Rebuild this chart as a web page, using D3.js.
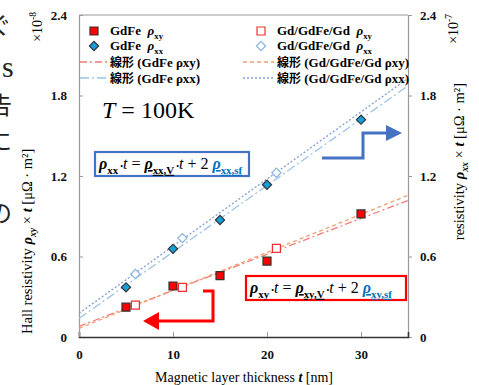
<!DOCTYPE html>
<html lang="ja">
<head>
<meta charset="UTF-8">
<script src="https://d3js.org/d3.v7.min.js"></script>
<style>
  body { margin: 0; background: #fff; }
  svg { display: block; font-family: "Liberation Serif", "Times New Roman", serif; }
</style>
</head>
<body>
<svg id="chart" width="479" height="385"></svg>
<script>
// values
var thickGdFe = [5, 10, 15, 20, 30];
var rhoXyGdFe = [0.222, 0.38, 0.457, 0.566, 0.917];
var rhoXxGdFe = [0.37, 0.657, 0.872, 1.135, 1.62];
var thickTri = [6, 11, 21];
var rhoXyTri = [0.238, 0.37, 0.661];
var rhoXxTri = [0.47, 0.737, 1.224];
var xTicks = [0, 10, 20, 30];
var yTicks = [0, 0.6, 1.2, 1.8, 2.4];

var svg = d3.select("#chart");
var x = d3.scaleLinear().domain([0, 35]).range([79, 408]);
var y = d3.scaleLinear().domain([0, 2.4]).range([337, 15]);

// rich text helper: parts with italic / sub / sup / colour / underline
function rich(g, px, py, parts, opts) {
  opts = opts || {};
  var size = opts.size || 13;
  var t = g.append("text").attr("x", px).attr("y", py)
    .attr("font-size", size)
    .attr("font-weight", opts.weight || "normal")
    .attr("text-anchor", opts.anchor || "start")
    .attr("fill", "#000");
  var shift = 0;
  parts.forEach(function(p) {
    var want = p.sub ? size * 0.3 : (p.sup ? -size * 0.4 : 0);
    var ts = t.append("tspan").text(p.t).attr("dy", want - shift);
    shift = want;
    if (p.sub || p.sup) ts.attr("font-size", size * 0.68);
    if (p.size) ts.attr("font-size", p.size);
    if (p.i) ts.attr("font-style", "italic");
    if (p.b) ts.attr("font-weight", "bold");
    if (p.fill) ts.attr("fill", p.fill);
    if (p.u) ts.attr("text-decoration", "underline");
    if (p.font) ts.attr("font-family", p.font);
  });
  return t;
}

// clipped slide text at the far left
var side = [["ぐ", -12, 34, 1, 24], ["s", 2, 77, 0, 30], ["告", -12, 114, 1, 24], ["に", -12, 150, 1, 24], ["、", -10, 186, 1, 24], ["の", -12, 222, 1, 24]];
side.forEach(function(s) {
  svg.append("text").attr("x", s[1]).attr("y", s[2]).attr("font-size", s[4])
    .attr("font-family", s[3] ? "'Noto Sans CJK JP', serif" : "Liberation Serif")
    .attr("fill", "#222").text(s[0]);
});

// frame
svg.append("line").attr("x1", 79).attr("x2", 408).attr("y1", 15).attr("y2", 15)
  .attr("stroke", "#9a9a9a");

var fmt = function(d) { return d === 0 ? "0" : d.toFixed(1); };
var gl = svg.append("g").attr("transform", "translate(79,0)")
  .call(d3.axisLeft(y).tickValues(yTicks).tickSize(-4).tickPadding(12).tickFormat(fmt));
var gr = svg.append("g").attr("transform", "translate(408,0)")
  .call(d3.axisRight(y).tickValues(yTicks).tickSize(4).tickPadding(8).tickFormat(fmt));
[gl, gr].forEach(function(g) {
  g.select(".domain").attr("stroke", "#9a9a9a").attr("stroke-width", 1.2);
  g.selectAll(".tick line").attr("stroke", "#9a9a9a");
  g.selectAll("text").attr("font-size", 13).attr("font-weight", "bold")
    .attr("font-family", "Liberation Serif").attr("fill", "#111");
});
var gb = svg.append("g").attr("transform", "translate(0,337)")
  .call(d3.axisBottom(x).tickValues(xTicks).tickSize(-5).tickPadding(13));
gb.select(".domain").attr("stroke", "#333").attr("stroke-width", 1.6);
gb.selectAll(".tick line").attr("stroke", "#9a9a9a");
gb.selectAll("text").attr("font-size", 13).attr("font-weight", "bold")
  .attr("font-family", "Liberation Serif").attr("fill", "#111");

// linear fits (Excel trendlines)
function fit(xs, ys) {
  var mx = d3.mean(xs), my = d3.mean(ys);
  var sxy = d3.sum(xs, function(v, i) { return (v - mx) * (ys[i] - my); });
  var sxx = d3.sum(xs, function(v) { return (v - mx) * (v - mx); });
  var b = sxy / sxx;
  return [[0, my - b * mx], [35, my - b * mx + b * 35]];
}
var line = d3.line().x(function(d) { return x(d[0]); }).y(function(d) { return y(d[1]); });
var fits = [
  { pts: fit(thickGdFe, rhoXyGdFe), color: "#f47a76", dash: "7,3,2,3" },
  { pts: fit(thickTri, rhoXyTri), color: "#f0a070", dash: "4,3" },
  { pts: fit(thickGdFe, rhoXxGdFe), color: "#9dc3e6", dash: "9,3,2,3" },
  { pts: fit(thickTri, rhoXxTri), color: "#7f9fd8", dash: "2,2" }
];
fits.forEach(function(f) {
  svg.append("path").attr("d", line(f.pts)).attr("fill", "none")
    .attr("stroke", f.color).attr("stroke-width", 1.3).attr("stroke-dasharray", f.dash);
});

// markers (diamond = square turned 45deg)
var sq = d3.symbol().type(d3.symbolSquare).size(64)();
var dia = d3.symbol().type(d3.symbolSquare).size(42)();
function marks(xs, ys, sym, rot, fill, stroke) {
  svg.append("g").selectAll("path").data(xs).join("path")
    .attr("transform", function(d, i) {
      return "translate(" + x(d) + "," + y(ys[i]) + ") rotate(" + rot + ")";
    })
    .attr("d", sym).attr("fill", fill).attr("stroke", stroke).attr("stroke-width", 1.2);
}
marks(thickTri, rhoXyTri, sq, 0, "#fff", "#f03030");
marks(thickTri, rhoXxTri, dia, 45, "#fff", "#8ab4e0");
marks(thickGdFe, rhoXyGdFe, sq, 0, "#ff0000", "#333");
marks(thickGdFe, rhoXxGdFe, dia, 45, "#12a0dc", "#333");

// legend
var lg = svg.append("g");
function legMark(cx, cy, sym, rot, fill, stroke) {
  lg.append("path").attr("transform", "translate(" + cx + "," + cy + ") rotate(" + rot + ")")
    .attr("d", sym).attr("fill", fill).attr("stroke", stroke).attr("stroke-width", 1.2);
}
function legLine(x1, x2, ly, f) {
  lg.append("line").attr("x1", x1).attr("x2", x2).attr("y1", ly).attr("y2", ly)
    .attr("stroke", f.color).attr("stroke-width", 1.3).attr("stroke-dasharray", f.dash);
}
legMark(94, 31, sq, 0, "#ff0000", "#333");
legMark(94, 46, dia, 45, "#12a0dc", "#333");
legLine(80, 108, 62, fits[0]);
legLine(80, 108, 78, fits[2]);
legMark(261, 31, sq, 0, "#fff", "#f03030");
legMark(261, 46, dia, 45, "#fff", "#8ab4e0");
legLine(243, 274, 62, fits[1]);
legLine(243, 274, 78, fits[3]);
var lo = { size: 13, weight: "bold" };
var jp = "'Noto Sans CJK JP', sans-serif";
rich(lg, 110, 35, [{ t: "GdFe\u00a0\u00a0" }, { t: "ρ", i: 1 }, { t: "xy", sub: 1 }], lo);
rich(lg, 110, 50, [{ t: "GdFe\u00a0\u00a0" }, { t: "ρ", i: 1 }, { t: "xx", sub: 1 }], lo);
rich(lg, 110, 67, [{ t: "線形", font: jp, size: 12 }, { t: " (GdFe ρxy)" }], lo);
rich(lg, 110, 83, [{ t: "線形", font: jp, size: 12 }, { t: " (GdFe ρxx)" }], lo);
rich(lg, 277, 35, [{ t: "Gd/GdFe/Gd\u00a0\u00a0" }, { t: "ρ", i: 1 }, { t: "xy", sub: 1 }], lo);
rich(lg, 277, 50, [{ t: "Gd/GdFe/Gd\u00a0\u00a0" }, { t: "ρ", i: 1 }, { t: "xx", sub: 1 }], lo);
rich(lg, 277, 67, [{ t: "線形", font: jp, size: 12 }, { t: " (Gd/GdFe/Gd ρxy)" }], lo);
rich(lg, 277, 83, [{ t: "線形", font: jp, size: 12 }, { t: " (Gd/GdFe/Gd ρxx)" }], lo);

// temperature
rich(svg, 102, 118, [{ t: "T", i: 1 }, { t: " = 100K" }], { size: 24 });

// equation boxes
function eqBox(bx, by, bw, bh, col, s) {
  svg.append("rect").attr("x", bx).attr("y", by).attr("width", bw).attr("height", bh)
    .attr("fill", "#fff").attr("stroke", col).attr("stroke-width", 2.2);
  rich(svg, bx + 4, by + bh - 7, [
    { t: "ρ", i: 1, b: 1 }, { t: s, sub: 1, b: 1 }, { t: " •", size: 8 }, { t: "t", i: 1 },
    { t: " = " },
    { t: "ρ", i: 1, b: 1, u: 1 }, { t: s + ",V", sub: 1, b: 1, u: 1 }, { t: " •", size: 8 }, { t: "t", i: 1 },
    { t: " + 2 " },
    { t: "ρ", i: 1, b: 1, fill: "#0070c0", u: 1 }, { t: s + ",sf", sub: 1, b: 1, fill: "#0070c0", u: 1 }
  ], { size: 16 });
}
eqBox(95, 152, 154, 24, "#4472c4", "xx");
eqBox(246, 276, 160, 24, "#ff0000", "xy");

// arrows
svg.append("path").attr("d", "M322,158H363V133H388").attr("fill", "none")
  .attr("stroke", "#4472c4").attr("stroke-width", 3);
svg.append("path").attr("d", "M386,125L402,133L386,141Z").attr("fill", "#4472c4");
svg.append("path").attr("d", "M203,291H213V321H158").attr("fill", "none")
  .attr("stroke", "#ff0000").attr("stroke-width", 3);
svg.append("path").attr("d", "M159,312L143,321L159,330Z").attr("fill", "#ff0000");

// axis titles
rich(svg, 244, 382, [{ t: "Magnetic layer thickness " }, { t: "t", i: 1, b: 1 }, { t: " [nm]" }],
  { size: 14, anchor: "middle" });
var ly = svg.append("g").attr("transform", "translate(32,334) rotate(-90)");
rich(ly, 0, 0, [{ t: "Hall resistivity " }, { t: "ρ", i: 1, b: 1 }, { t: "xy", sub: 1, i: 1, b: 1 },
  { t: " × " }, { t: "t", i: 1, b: 1 }, { t: " [μΩ · m²]" }], { size: 14.5 });
var ly2 = svg.append("g").attr("transform", "translate(42,12) rotate(-90)");
rich(ly2, 0, 0, [{ t: "×10" }, { t: "-8", sup: 1 }], { size: 14, anchor: "end" });
var ry = svg.append("g").attr("transform", "translate(464,83) rotate(-90)");
rich(ry, 0, 0, [{ t: "resistivity " }, { t: "ρ", i: 1, b: 1 }, { t: "xx", sub: 1, i: 1, b: 1 },
  { t: " × " }, { t: "t", i: 1, b: 1 }, { t: " [μΩ · m²]" }], { size: 14.5, anchor: "end" });
var ry2 = svg.append("g").attr("transform", "translate(458,14) rotate(-90)");
rich(ry2, 0, 0, [{ t: "×10" }, { t: "-7", sup: 1 }], { size: 14, anchor: "end" });
</script>
</body>
</html>
